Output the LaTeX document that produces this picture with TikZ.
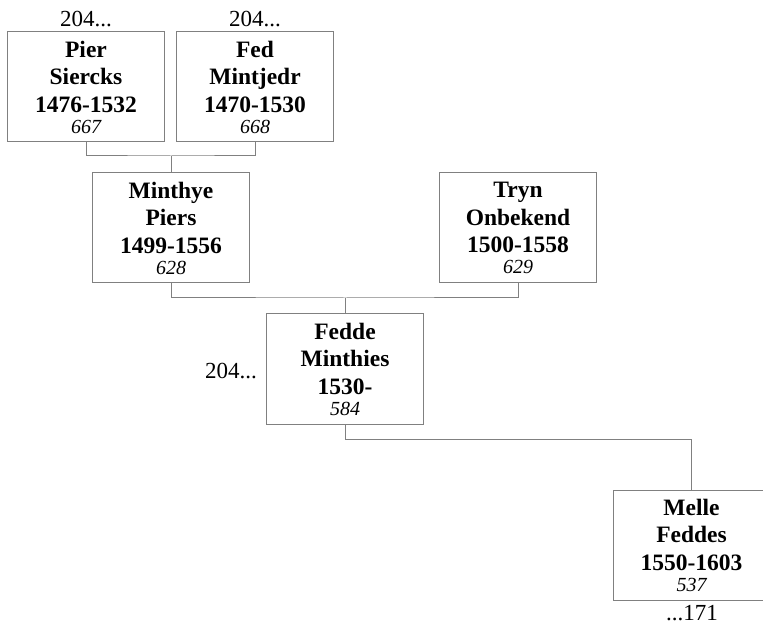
\documentclass[tikz,border=0pt]{standalone}
\usepackage{fontspec}
\setmainfont{Liberation Serif}
\definecolor{linegray}{RGB}{128,128,128}
\tikzset{
  person/.style={draw=linegray, line width=1pt, fill=white, rectangle, minimum width=157pt, minimum height=110pt, inner sep=0pt, align=center, font=\fontsize{23.5}{27.5}\selectfont\bfseries},
  conn/.style={draw=linegray, line width=1pt},
  lbl/.style={inner sep=0pt, font=\fontsize{23}{27}\selectfont}
}
\newcommand{\idno}[1]{\\[-6.5pt]{\mdseries\itshape\fontsize{20}{21}\selectfont #1}}
\begin{document}
\begin{tikzpicture}[x=1pt,y=-1pt]
\clip (0,0) rectangle (763,628);
\fill[white] (0,0) rectangle (763,628);
\node[person] (pier) at (86,87) {Pier\\Siercks\\1476-1532\idno{667}};
\node[person] (fed) at (255,87) {Fed\\Mintjedr\\1470-1530\idno{668}};
\node[person] (minthye) at (171,228) {Minthye\\Piers\\1499-1556\idno{628}};
\node[person] (tryn) at (518,228) {Tryn\\Onbekend\\1500-1558\idno{629}};
\node[person] (fedde) at (345,369) {Fedde\\Minthies\\1530-\idno{584}};
\node[person] (melle) at (691.5,545) {Melle\\Feddes\\1550-1603\idno{537}};
\node[lbl, anchor=base] (l1) at (86,27) {204...};
\node[lbl, anchor=base] (l2) at (255,27) {204...};
\node[lbl, anchor=base east] (l3) at (257,378) {204...};
\node[lbl, anchor=base] (l4) at (692,620) {...171};
\coordinate (c1) at (171,156);
\coordinate (c2) at (345,298);
\coordinate (c3) at (345,439);
\draw[conn] (pier.south) |- (c1) -| (fed.south);
\draw[conn] (c1) -- (minthye.north);
\draw[conn] (minthye.south) |- (c2) -| (tryn.south);
\draw[conn] (c2) -- (fedde.north);
\draw[conn] (fedde.south) -- (c3) -| (melle.north);
\end{tikzpicture}
\end{document}
